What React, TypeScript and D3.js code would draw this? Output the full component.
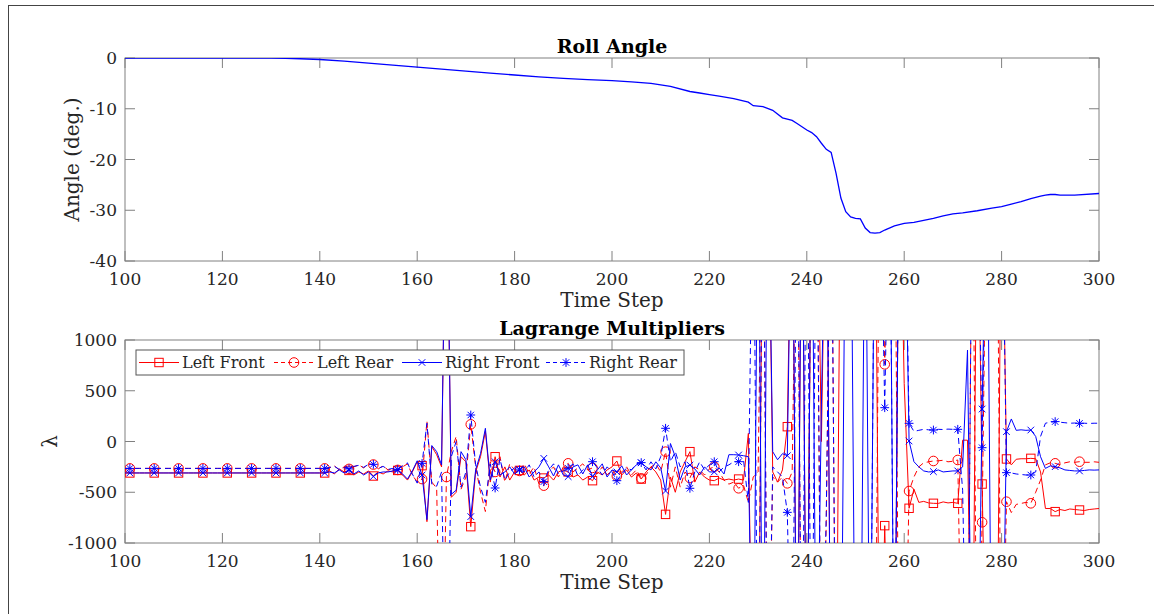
import React from 'react';
import * as d3 from 'd3';

// ---------- DATA ----------
const rollTime = [100,110,120,130,133,136,140,145,150,155,160,165,170,175,180,185,190,195,200,204,208,212,216,218,220,222,225,228,229,231,233,235,237,238,240,241,242,243,244,245,246,247,248,249,250,251,252,253,254,255,256,258,260,262,264,266,268,270,272,275,278,280,282,284,286,288,289,290,291,292,295,300];
const rollAngle = [0,0,0,0,-0.05,-0.15,-0.3,-0.6,-1.0,-1.4,-1.8,-2.2,-2.6,-3.0,-3.35,-3.7,-4.0,-4.25,-4.45,-4.7,-5.0,-5.6,-6.6,-6.9,-7.2,-7.5,-8.0,-8.7,-9.4,-9.6,-10.3,-11.8,-12.3,-12.9,-14.2,-14.7,-15.5,-16.8,-18.0,-18.6,-22.7,-27.6,-30.3,-31.3,-31.6,-31.7,-33.5,-34.4,-34.5,-34.4,-33.9,-33.1,-32.6,-32.4,-32.0,-31.6,-31.1,-30.7,-30.5,-30.1,-29.6,-29.3,-28.8,-28.3,-27.7,-27.2,-27.0,-26.9,-26.9,-27.0,-27.0,-26.7];

const timeSteps = d3.range(100, 301);

const leftFront = [
  -310,-310,-310,-310,-310,-310,-310,-310,-310,-310,
  -310,-310,-310,-310,-310,-310,-310,-310,-310,-310,
  -310,-310,-310,-310,-310,-310,-310,-310,-310,-310,
  -310,-310,-310,-310,-310,-310,-310,-310,-310,-310,
  -310,-310,-290,-320,-270,-300,-285,-330,-300,-320,
  -290,-340,-300,-320,-290,-300,-285,-330,-380,-300,
  -200,-238,-790,-50,-130,-250,3000,-550,-500,-150,
  -200,-839,-300,-150,100,-400,-150,-350,-250,-380,
  -300,-285,-330,-280,-380,-350,-360,-330,-380,-300,
  -280,-300,-350,-330,-380,-350,-386,-300,-330,-280,
  -250,-192,-330,-280,-350,-310,-370,-300,-250,-300,
  -380,-718,-350,-500,-300,-200,-100,-400,-300,-350,
  -380,-386,-360,-380,-370,-380,-370,-380,80,-3000,
  -3000,3000,3000,-300,-400,-280,146,3000,-3000,3000,
  -3000,3000,3000,0,3000,-3000,-3000,3000,3000,3000,
  3000,3000,3000,3000,3000,-3000,-829,-3000,-3000,3000,
  573,-658,-470,-600,-590,-605,-609,-610,-595,-605,
  -600,-609,13,13,-3000,3000,-419,-3000,-3000,-3000,
  3000,-172,-230,-175,-170,-170,-166,-170,-300,-660,
  -660,-691,-670,-680,-665,-670,-675,-680,-670,-665,
  -660
];

const leftRear = [
  -265,-265,-265,-265,-265,-265,-265,-265,-265,-265,
  -265,-265,-265,-265,-265,-265,-265,-265,-265,-265,
  -265,-265,-265,-265,-265,-265,-265,-265,-265,-265,
  -265,-265,-265,-265,-265,-265,-265,-265,-265,-265,
  -265,-265,-260,-240,-280,-250,-270,-250,-230,-260,
  -220,-227,-270,-240,-280,-270,-280,-250,-220,-330,
  -400,-370,200,-400,-460,-3000,-350,-100,50,-470,
  -350,169,-250,-500,-690,-200,-300,-150,-400,-220,
  -280,-290,-220,-320,-250,-420,-435,-300,-250,-350,
  -250,-215,-300,-260,-220,-280,-260,-320,-250,-330,
  -280,-340,-300,-250,-330,-280,-363,-330,-250,-220,
  -300,-100,-450,-250,-450,-300,-360,-250,-280,-330,
  -270,-248,-300,-380,-420,-400,-461,-430,-600,-350,
  -300,3000,-3000,-350,-400,-350,-412,-300,3000,-3000,
  -3000,3000,3000,-3000,-790,3000,-3000,-3000,-3000,-3000,
  -3000,-3000,-3000,-3000,-3000,3000,760,3000,3000,-3000,
  -3000,-488,-350,-250,-210,-200,-192,-190,-185,-200,
  -195,-182,-3000,-3000,3000,-3000,-796,3000,3000,3000,
  -3000,-593,-700,-620,-610,-600,-609,-500,-380,-230,
  -210,-215,-230,-210,-200,-205,-199,-205,-205,-200,
  -205
];

const rightFront = [
  -310,-310,-310,-310,-310,-310,-310,-310,-310,-310,
  -310,-310,-310,-310,-310,-310,-310,-310,-310,-310,
  -310,-310,-310,-310,-310,-310,-310,-310,-310,-310,
  -310,-310,-310,-310,-310,-310,-310,-310,-310,-310,
  -310,-310,-300,-310,-280,-310,-280,-320,-290,-330,
  -300,-345,-310,-300,-300,-290,-280,-320,-370,-290,
  -190,-330,-770,-40,-100,-230,3000,-520,-480,-100,
  -180,-740,-280,-120,130,-380,-200,-330,-300,-250,
  -320,-275,-250,-350,-300,-250,-166,-250,-340,-230,
  -330,-346,-250,-230,-320,-230,-346,-280,-220,-350,
  -280,-300,-240,-330,-280,-230,-210,-250,-280,-200,
  -260,-487,-20,-150,-380,-250,-232,-270,-330,-250,
  -300,-300,-260,-320,-130,-130,-133,-140,-150,-3000,
  3000,-3000,3000,-100,-180,-120,-140,3000,-3000,3000,
  -3000,3000,-3000,360,3000,-3000,-3000,-3000,3000,3000,
  -3000,-3000,3000,-3000,3000,3000,3000,3000,-3000,3000,
  3000,5,-199,-250,-290,-300,-297,-280,-300,-295,
  -290,-290,-250,901,-3000,-3000,320,3000,-3000,-3000,
  -3000,97,222,110,115,110,113,50,-150,-265,
  -240,-248,-260,-280,-285,-290,-290,-285,-280,-282,
  -280
];

const rightRear = [
  -265,-265,-265,-265,-265,-265,-265,-265,-265,-265,
  -265,-265,-265,-265,-265,-265,-265,-265,-265,-265,
  -265,-265,-265,-265,-265,-265,-265,-265,-265,-265,
  -265,-265,-265,-265,-265,-265,-265,-265,-265,-265,
  -265,-265,-255,-245,-275,-255,-270,-245,-235,-255,
  -225,-225,-265,-245,-275,-265,-275,-240,-210,-320,
  -410,-215,180,-420,-440,-300,-3000,-150,0,-450,
  -300,261,-230,-450,-600,-220,-458,-170,-380,-300,
  -260,-280,-300,-230,-350,-300,-396,-280,-220,-320,
  -290,-264,-220,-340,-280,-240,-199,-260,-330,-250,
  -300,-386,-320,-260,-280,-220,-208,-280,-200,-270,
  -150,130,-200,-100,-250,-200,-461,-300,-200,-280,
  -230,-199,-300,-250,-230,-200,-199,-180,-600,3000,
  -3000,3000,-3000,-250,-300,-350,-698,-3000,3000,-3000,
  3000,-3000,3000,-3000,-700,3000,-3000,-3000,-3000,-3000,
  -3000,-3000,-3000,-3000,3000,3000,333,3000,-3000,3000,
  3000,179,100,110,120,115,113,120,118,122,
  120,120,-480,-3000,3000,3000,-61,3000,3000,3000,
  3000,-307,-310,-320,-325,-330,-330,-300,50,180,
  190,196,190,185,180,182,179,180,178,180,
  180
];

const seriesNames = ['Left Front', 'Left Rear', 'Right Front', 'Right Rear'];
const xTicks = [100, 120, 140, 160, 180, 200, 220, 240, 260, 280, 300];
const rollYTicks = [0, -10, -20, -30, -40];
const lambdaYTicks = [1000, 500, 0, -500, -1000];

// ---------- LAYOUT ----------
const W = 1154, H = 614;
const X0 = 125, X1 = 1099;
const T1 = 58, B1 = 261;
const T2 = 340, B2 = 543;
const FONT = '"DejaVu Serif", serif';
const AXIS = '#808080';
const TXT = '#262626';
const TICK = 10;
const TICKFONT = 17;

const series = [
  { name: seriesNames[0], values: leftFront, color: '#ff0000', dash: null, marker: 'square' },
  { name: seriesNames[1], values: leftRear, color: '#ff0000', dash: '6,4', marker: 'circle' },
  { name: seriesNames[2], values: rightFront, color: '#0000ff', dash: null, marker: 'x' },
  { name: seriesNames[3], values: rightRear, color: '#0000ff', dash: '6,4', marker: 'star' },
];

function Marker({ type, x, y, color }: { type: string; x: number; y: number; color: string }) {
  const s = 4.2;
  if (type === 'square') return <rect x={x - s} y={y - s} width={2 * s} height={2 * s} fill="none" stroke={color} strokeWidth={1} />;
  if (type === 'circle') return <circle cx={x} cy={y} r={4.8} fill="none" stroke={color} strokeWidth={1} />;
  if (type === 'x') return <path d={`M${x - 3.3},${y - 3.3}L${x + 3.3},${y + 3.3}M${x - 3.3},${y + 3.3}L${x + 3.3},${y - 3.3}`} stroke={color} strokeWidth={1} />;
  const a = 4.4, b = 3.2;
  return <path d={`M${x - a},${y}L${x + a},${y}M${x},${y - a}L${x},${y + a}M${x - b},${y - b}L${x + b},${y + b}M${x - b},${y + b}L${x + b},${y - b}`} stroke={color} strokeWidth={1} />;
}

function Axes({ yScale, yTicks, top, bottom, title, ylabel, ylabelX }: any) {
  const x = d3.scaleLinear().domain([100, 300]).range([X0, X1]);
  return (
    <g>
      <rect x={X0} y={top} width={X1 - X0} height={bottom - top} fill="none" stroke={AXIS} strokeWidth={1} />
      {xTicks.map((t) => (
        <g key={'xt' + t}>
          <line x1={x(t)} x2={x(t)} y1={bottom} y2={bottom - TICK} stroke={AXIS} />
          <line x1={x(t)} x2={x(t)} y1={top} y2={top + TICK} stroke={AXIS} />
          <text x={x(t)} y={bottom + 24} textAnchor="middle" fontFamily={FONT} fontSize={TICKFONT} fill={TXT}>{t}</text>
        </g>
      ))}
      {yTicks.map((v: number) => (
        <g key={'yt' + v}>
          <line x1={X0} x2={X0 + TICK} y1={yScale(v)} y2={yScale(v)} stroke={AXIS} />
          <line x1={X1} x2={X1 - TICK} y1={yScale(v)} y2={yScale(v)} stroke={AXIS} />
          <text x={X0 - 8} y={yScale(v)} dy="0.36em" textAnchor="end" fontFamily={FONT} fontSize={TICKFONT} fill={TXT}>{v}</text>
        </g>
      ))}
      <text x={(X0 + X1) / 2} y={top - 5} textAnchor="middle" fontFamily={FONT} fontSize={19} fontWeight="bold" fill="#000">{title}</text>
      <text x={(X0 + X1) / 2} y={bottom + 46} textAnchor="middle" fontFamily={FONT} fontSize={20} fill={TXT}>Time Step</text>
      <text transform={`translate(${ylabelX},${(top + bottom) / 2}) rotate(-90)`} textAnchor="middle" dy="0.35em" fontFamily={FONT} fontSize={20} fill={TXT}>{ylabel}</text>
    </g>
  );
}

export default function App() {
  const x = d3.scaleLinear().domain([100, 300]).range([X0, X1]);
  const y1 = d3.scaleLinear().domain([-40, 0]).range([B1, T1]);
  const y2 = d3.scaleLinear().domain([-1000, 1000]).range([B2, T2]);

  const rollLine = d3.line<number>().x((_, i) => x(rollTime[i])).y((d) => y1(d));
  const lamLine = d3.line<number>().x((_, i) => x(timeSteps[i])).y((d) => y2(d));

  const legendX = [139, 274, 402, 546];

  return (
    <svg width={W} height={H} style={{ position: 'absolute', left: 0, top: 0, background: '#fff' }}>
      <defs>
        <clipPath id="clip1"><rect x={X0} y={T1} width={X1 - X0} height={B1 - T1} /></clipPath>
        <clipPath id="clip2"><rect x={X0} y={T2} width={X1 - X0} height={B2 - T2} /></clipPath>
      </defs>
      <rect x={0} y={0} width={W} height={H} fill="#fff" />
      <line x1={8} x2={W} y1={5.5} y2={5.5} stroke="#444" strokeWidth={1} />
      <line x1={8.5} x2={8.5} y1={5} y2={H} stroke="#444" strokeWidth={1} />

      {/* Roll angle */}
      <Axes yScale={y1} yTicks={rollYTicks} top={T1} bottom={B1} title="Roll Angle" ylabel="Angle (deg.)" ylabelX={72} />
      <path d={rollLine(rollAngle) || ''} fill="none" stroke="#0000ff" strokeWidth={1.3} clipPath="url(#clip1)" />

      {/* Lagrange multipliers */}
      <Axes yScale={y2} yTicks={lambdaYTicks} top={T2} bottom={B2} title="Lagrange Multipliers" ylabel="λ" ylabelX={50} />
      <g clipPath="url(#clip2)">
        {series.map((s) => (
          <g key={s.name}>
            <path d={lamLine(s.values) || ''} fill="none" stroke={s.color} strokeWidth={1} strokeDasharray={s.dash || undefined} />
            {s.values.map((v, i) => ((timeSteps[i] - 101) % 5 === 0 && Math.abs(v) <= 1000 ? (
              <Marker key={i} type={s.marker} x={x(timeSteps[i])} y={y2(v)} color={s.color} />
            ) : null))}
          </g>
        ))}
      </g>

      {/* Legend */}
      <rect x={136} y={350} width={548} height={25} fill="#fff" stroke="#555" strokeWidth={1} />
      {series.map((s, i) => (
        <g key={'lg' + i}>
          <line x1={legendX[i]} x2={legendX[i] + 40} y1={362.5} y2={362.5} stroke={s.color} strokeWidth={1} strokeDasharray={s.dash ? '4,3' : undefined} />
          <Marker type={s.marker} x={legendX[i] + 20} y={362.5} color={s.color} />
          <text x={legendX[i] + 43} y={362.5} dy="0.36em" fontFamily={FONT} fontSize={16} fill={TXT}>{s.name}</text>
        </g>
      ))}
    </svg>
  );
}
